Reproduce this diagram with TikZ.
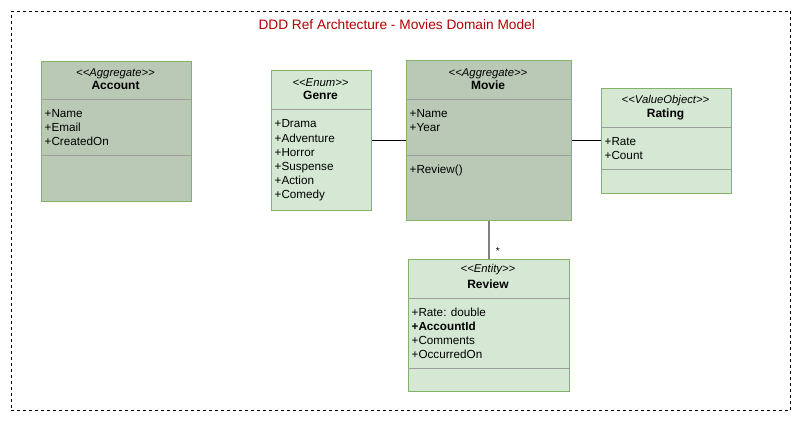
\documentclass[tikz,border=0pt]{standalone}
\usepackage{fontspec}
\setmainfont{Liberation Sans}[Ligatures=TeXOff]
\definecolor{aggfill}{HTML}{B9C9B5}
\definecolor{entfill}{HTML}{D5E8D4}
\definecolor{umlborder}{HTML}{82B366}
\definecolor{divgray}{HTML}{9E9E9E}
\definecolor{titlered}{HTML}{B20000}
\definecolor{linkgray}{HTML}{808080}
\begin{document}
\begin{tikzpicture}[x=1pt,y=-1pt,
  clsbox/.style={draw=umlborder, line width=1pt},
  aggbox/.style={clsbox, fill=aggfill},
  entbox/.style={clsbox, fill=entfill},
  divider/.style={draw=divgray, line width=1pt},
  stereo/.style={font=\fontsize{11.3}{13}\selectfont\itshape, anchor=base, inner sep=0pt},
  cname/.style={font=\fontsize{12}{14}\selectfont\bfseries, anchor=base, inner sep=0pt},
  attr/.style={font=\fontsize{11.7}{14}\selectfont, anchor=base west, inner sep=0pt},
  link/.style={draw=black, line width=1pt},
  ownlink/.style={draw=linkgray, line width=2pt},
]
\useasboundingbox (0,0) rectangle (802,421);
% frame
\node[draw=black, line width=1pt, dash pattern=on 3pt off 3pt, inner sep=0pt, minimum width=779.5pt, minimum height=399.5pt, anchor=north west] (frame) at (10.5,10.5) {};
\node[font=\fontsize{13.7}{16}\selectfont, text=titlered, anchor=base, inner sep=0pt] (title) at (396.7,29.5) {DDD Ref Archtecture - Movies Domain Model};

% Account
\node[aggbox, anchor=north west, inner sep=0pt, minimum width=150pt, minimum height=140pt] (account) at (40.5,60.5) {};
\draw[divider] (40.5,99.5) -- (190.5,99.5);
\draw[divider] (40.5,155.5) -- (190.5,155.5);
\node[stereo] (accst) at (115.5,76) {<<Aggregate>>};
\node[cname] (accname) at (115.5,89.5) {Account};
\node[attr] (acca1) at (44.5,117.3) {+Name};
\node[attr] (acca2) at (44.5,131.6) {+Email};
\node[attr] (acca3) at (44.5,145.9) {+CreatedOn};

% Genre
\node[entbox, anchor=north west, inner sep=0pt, minimum width=100pt, minimum height=140pt] (genre) at (270.5,70) {};
\draw[divider] (270.5,109) -- (370.5,109);
\node[stereo] (genst) at (320.5,86) {<<Enum>>};
\node[cname] (genname) at (320.5,99.5) {Genre};
\node[attr] (gena1) at (274.5,127.8) {+Drama};
\node[attr] (gena2) at (274.5,142) {+Adventure};
\node[attr] (gena3) at (274.5,156.2) {+Horror};
\node[attr] (gena4) at (274.5,170.4) {+Suspense};
\node[attr] (gena5) at (274.5,184.6) {+Action};
\node[attr] (gena6) at (274.5,198.8) {+Comedy};

% Movie
\node[aggbox, anchor=north west, inner sep=0pt, minimum width=165pt, minimum height=160pt] (movie) at (405.5,60) {};
\draw[divider] (405.5,99.5) -- (570.5,99.5);
\draw[divider] (405.5,155.5) -- (570.5,155.5);
\node[stereo] (movst) at (488,76) {<<Aggregate>>};
\node[cname] (movname) at (488,89.5) {Movie};
\node[attr] (mova1) at (409.5,117.3) {+Name};
\node[attr] (mova2) at (409.5,131.6) {+Year};
\node[attr] (movm1) at (409.5,173.5) {+Review()};

% Rating
\node[entbox, anchor=north west, inner sep=0pt, minimum width=130pt, minimum height=104.5pt] (rating) at (600.5,88) {};
\draw[divider] (600.5,127.5) -- (730.5,127.5);
\draw[divider] (600.5,169.5) -- (730.5,169.5);
\node[stereo] (ratst) at (665.5,103.5) {<<ValueObject>>};
\node[cname] (ratname) at (665.5,117) {Rating};
\node[attr] (rata1) at (604.5,145.5) {+Rate};
\node[attr] (rata2) at (604.5,159.8) {+Count};

% Review
\node[entbox, anchor=north west, inner sep=0pt, minimum width=161pt, minimum height=132pt] (review) at (407.5,258.5) {};
\draw[divider] (407.5,298.5) -- (568.5,298.5);
\draw[divider] (407.5,368.5) -- (568.5,368.5);
\node[stereo] (revst) at (488,272.5) {<<Entity>>};
\node[cname] (revname) at (488,288.5) {Review};
\node[attr] (reva1) at (411.5,316) {+Rate: double};
\node[attr, font=\fontsize{11.7}{14}\selectfont\bfseries] (reva2) at (411.5,330.3) {+AccountId};
\node[attr] (reva3) at (411.5,344.6) {+Comments};
\node[attr] (reva4) at (411.5,358.9) {+OccurredOn};

% connectors
\draw[link] (genre.east) -- (movie.west);
\draw[link] (movie.east) -- (rating.west |- movie.east);
\draw[ownlink] (movie.south) -- (review.north);
\node[font=\fontsize{10}{12}\selectfont, inner sep=0pt] (mult) at (497.7,251) {*};
\end{tikzpicture}
\end{document}
